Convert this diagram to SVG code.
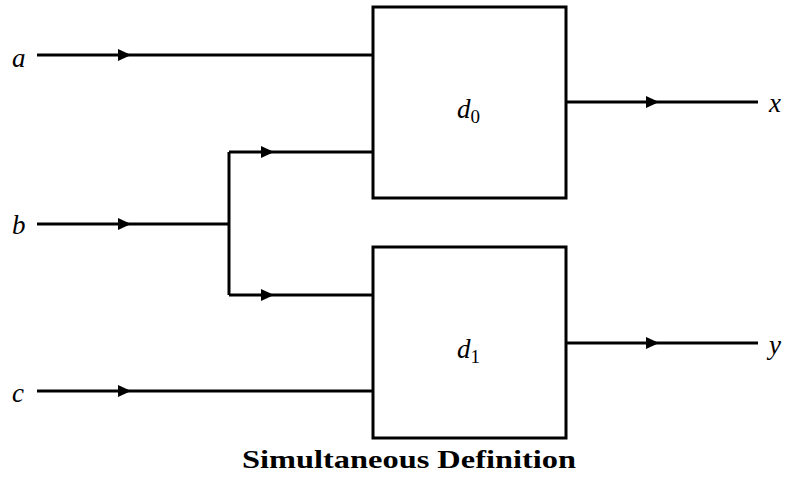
<svg xmlns="http://www.w3.org/2000/svg" xmlns:xlink="http://www.w3.org/1999/xlink" width="791" height="484" viewBox="0 0 791 484">
<style>
.w{fill:none;stroke:#000;stroke-width:3;stroke-linecap:butt;stroke-linejoin:miter}
.box{fill:#fff;stroke:#000;stroke-width:3}
.v{font-family:"Liberation Serif","DejaVu Serif",serif;font-style:italic;font-size:27px;fill:#000}
.sub{font-style:normal;font-size:19px}
</style>
<defs>
<path id="ah" d="M-13,-6 L0,0 L-13,6 Z" fill="#000"/>
</defs>
<g id="connectors">
<path class="w" d="M37,55 H373"/>
<path class="w" d="M37,224 H229"/>
<path class="w" d="M229,152 V295"/>
<path class="w" d="M229,152 H373"/>
<path class="w" d="M229,295 H373"/>
<path class="w" d="M37,391 H373"/>
<path class="w" d="M566,102 H758"/>
<path class="w" d="M566,343 H758"/>
<use xlink:href="#ah" transform="translate(131,55)"/>
<use xlink:href="#ah" transform="translate(131,224)"/>
<use xlink:href="#ah" transform="translate(274,152)"/>
<use xlink:href="#ah" transform="translate(274,295)"/>
<use xlink:href="#ah" transform="translate(131,391)"/>
<use xlink:href="#ah" transform="translate(659,102)"/>
<use xlink:href="#ah" transform="translate(659,343)"/>
</g>
<g id="d0">
<rect class="box" x="373" y="7" width="193" height="191"/>
<text class="v" x="457" y="118">d<tspan class="sub" dy="5">0</tspan></text>
</g>
<g id="d1">
<rect class="box" x="373" y="247" width="193" height="191"/>
<text class="v" x="457" y="358">d<tspan class="sub" dy="5">1</tspan></text>
</g>
<g id="a"><text class="v" x="12" y="67">a</text></g>
<g id="b"><text class="v" x="12" y="234">b</text></g>
<g id="c"><text class="v" x="12" y="402">c</text></g>
<g id="x"><text class="v" x="769" y="112">x</text></g>
<g id="y"><text class="v" x="769" y="354">y</text></g>
<text x="242" y="468" font-family="Liberation Serif, serif" font-weight="bold" font-size="25" fill="#000" textLength="334" lengthAdjust="spacingAndGlyphs">Simultaneous Definition</text>
</svg>
